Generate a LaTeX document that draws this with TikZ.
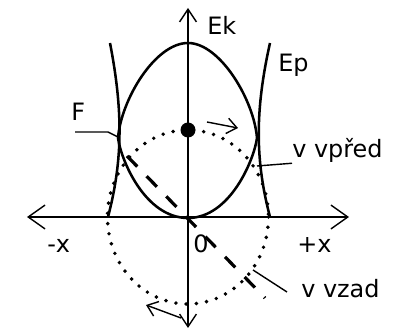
\documentclass[tikz,border=0pt]{standalone}
\usepackage{fontspec}
\setmainfont{DejaVu Sans}
\usetikzlibrary{arrows.meta}

\begin{document}
\begin{tikzpicture}[x=0.025cm,y=-0.025cm,
  lbl/.style={inner sep=0pt,font=\fontsize{17}{20}\selectfont},
  curve/.style={line width=1.8pt},
  axis/.style={line width=1pt},
  dots/.style={line width=2.8pt,line cap=round,dash pattern=on 0pt off 7.3pt},
  dashes/.style={line width=2.3pt,dash pattern=on 10.5pt off 9.5pt},
  barb/.style={-{Straight Barb[length=7pt,width=11pt]}}]
\useasboundingbox (0,0) rectangle (410,334);
\coordinate (O) at (188,217);
\coordinate (xl) at (27,217); \coordinate (xr) at (349,217);
\coordinate (yb) at (188,328); \coordinate (yt) at (188,8);
\coordinate (pL) at (118,137); \coordinate (pR) at (257,166); \coordinate (pB) at (253,270);
% axes
\draw[axis,{Straight Barb[length=12pt,width=17pt]}-{Straight Barb[length=12pt,width=17pt]}] (xl) -- (xr);
\draw[axis,{Straight Barb[length=9pt,width=12pt]}-{Straight Barb[length=9pt,width=12pt]}] (yb) -- (yt);
% Ek, Ep
\draw[curve] (188,43) .. controls (155,43) and (121,100) .. (118,138)
  .. controls (121,160) and (145,218) .. (188,218)
  .. controls (230,218) and (254,160) .. (257,138)
  .. controls (254,100) and (220,43) .. cycle;
\draw[curve] (110,43) .. controls (123,110) and (123,160) .. (108,217);
\draw[curve] (270,43) .. controls (255,110) and (255,160) .. (270,217);
% kruhovy pohyb
\draw[dots] (O) ellipse [x radius=80.5, y radius=87];
\fill (188,130) circle [radius=7.5];
\draw[axis,barb] (207,122) -- (238,128);
\draw[axis,barb] (181,318) -- (146,305);
\draw[dashes] (127,156) -- (265,298);
% popisky
\node[lbl,anchor=base west] (Ek) at (207,35) {Ek};
\node[lbl,anchor=base west] (Ep) at (278,72) {Ep};
\node[lbl,anchor=base west] (F) at (71,121) {F};
\node[lbl,anchor=base west] (vpred) at (292,158) {v vpřed};
\node[lbl,anchor=base west] (vzad) at (301,298) {v vzad};
\node[lbl,anchor=base west] (mx) at (47,253) {-x};
\node[lbl,anchor=base west] (px) at (297,253) {+x};
\node[lbl,anchor=base west] (nula) at (193,253) {0};
\coordinate (Fa) at (75,132); \coordinate (vzadA) at (287,292);
\draw[axis] (Fa) -- (108,132) -- (pL);
\draw[axis] (vpred.south west) -- (pR);
\draw[axis] (vzadA) -- (pB);
\end{tikzpicture}
\end{document}
